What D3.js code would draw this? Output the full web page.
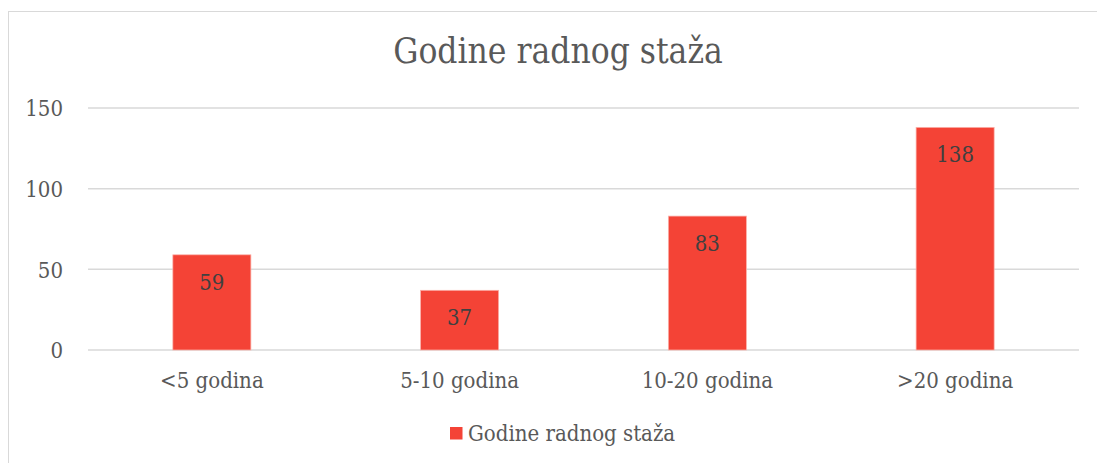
<!DOCTYPE html>
<html>
<head>
<meta charset="utf-8">
<script src="https://cdn.jsdelivr.net/npm/d3@7"></script>
<style>
  body { margin: 0; background: #fff; }
  text { font-family: "DejaVu Serif Condensed", "DejaVu Serif", serif; font-stretch: condensed; }
</style>
</head>
<body>
<svg class="chart"></svg>
<script>
var categories = ["<5 godina", "5-10 godina", "10-20 godina", ">20 godina"];
var values = [59, 37, 83, 138];
var yTicks = [0, 50, 100, 150];
var seriesName = "Godine radnog staža";
var title = "Godine radnog staža";

var width = 1097;
var height = 463;
var barColor = "#f44336";
var fontStack = "'DejaVu Serif Condensed', 'DejaVu Serif', serif";

var chart = d3.select(".chart")
    .attr("width", width)
    .attr("height", height);

// chart frame (cropped on right and bottom like the original)
chart.append("rect")
    .attr("x", 8.5)
    .attr("y", 11.5)
    .attr("width", 1200)
    .attr("height", 600)
    .attr("fill", "none")
    .attr("stroke", "#d9d9d9")
    .attr("stroke-width", 1);

var plot = { left: 88, right: 1079, top: 108, bottom: 350 };

var x = d3.scaleBand()
    .domain(categories)
    .range([plot.left, plot.right])
    .paddingInner(0.685)
    .paddingOuter(0.3425);

var y = d3.scaleLinear()
    .domain([0, 150])
    .range([plot.bottom, plot.top]);

// title
chart.append("text")
    .attr("x", 558)
    .attr("y", 63)
    .attr("text-anchor", "middle")
    .attr("fill", "#595959")
    .style("font-size", "35px")
    .text(title);

// gridlines
chart.append("g")
    .selectAll("line")
    .data(yTicks)
    .enter()
    .append("line")
    .attr("x1", plot.left)
    .attr("x2", plot.right)
    .attr("y1", function(d) { return y(d); })
    .attr("y2", function(d) { return y(d); })
    .attr("stroke", "#d9d9d9")
    .attr("stroke-width", 1.5);

// y axis labels
var yAxis = d3.axisLeft(y).tickValues(yTicks).tickSize(0).tickPadding(0);
var yg = chart.append("g")
    .attr("transform", "translate(63,0)")
    .call(yAxis);
yg.select(".domain").remove();
yg.selectAll("text")
    .attr("fill", "#595959")
    .attr("dy", "0.36em")
    .style("font-size", "22px")
    .style("font-family", fontStack);

// x axis labels
var xAxis = d3.axisBottom(x).tickSize(0).tickPadding(0);
var xg = chart.append("g")
    .attr("transform", "translate(0,388)")
    .call(xAxis);
xg.select(".domain").remove();
xg.selectAll("text")
    .attr("fill", "#595959")
    .attr("y", 0)
    .attr("dy", 0)
    .style("font-size", "22px")
    .style("font-family", fontStack);

// bars
chart.append("g")
    .selectAll("rect")
    .data(values)
    .enter()
    .append("rect")
    .attr("x", function(d, i) { return x(categories[i]); })
    .attr("y", function(d) { return y(d); })
    .attr("width", x.bandwidth())
    .attr("height", function(d) { return y(0) - y(d); })
    .attr("fill", barColor)
    .attr("stroke", "#fbb1aa")
    .attr("stroke-width", 0.75);

// value labels
chart.append("g")
    .selectAll("text")
    .data(values)
    .enter()
    .append("text")
    .attr("x", function(d, i) { return x(categories[i]) + x.bandwidth() / 2; })
    .attr("y", function(d) { return y(d) + 35; })
    .attr("text-anchor", "middle")
    .attr("fill", "#404040")
    .style("font-size", "22px")
    .text(function(d) { return d; });

// legend
var legend = chart.append("g");
legend.append("rect")
    .attr("x", 450)
    .attr("y", 427)
    .attr("width", 12.5)
    .attr("height", 12.5)
    .attr("fill", barColor);
legend.append("text")
    .attr("x", 468)
    .attr("y", 440.5)
    .attr("fill", "#595959")
    .style("font-size", "22px")
    .text(seriesName);
</script>
</body>
</html>
